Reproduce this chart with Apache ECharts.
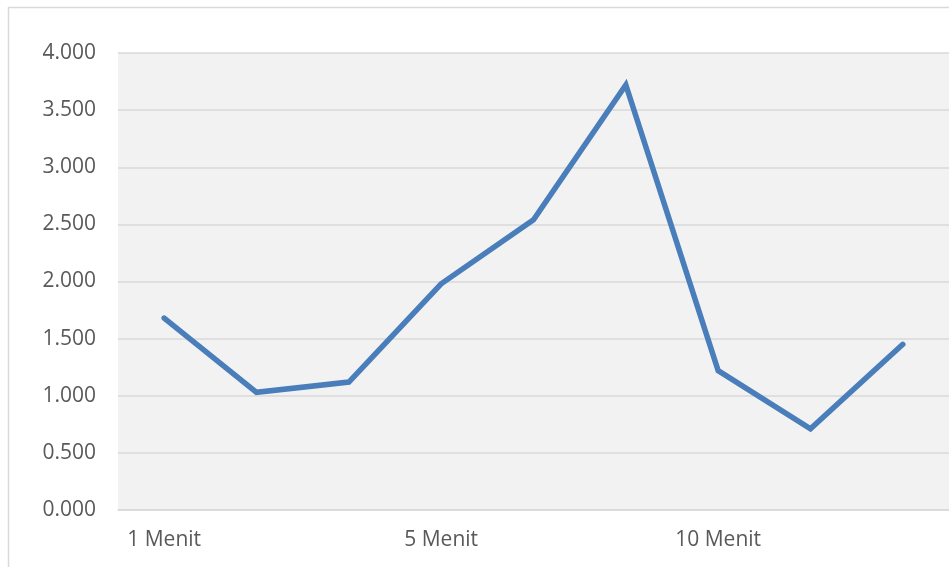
<!DOCTYPE html>
<html>
<head>
<meta charset="utf-8">
<script src="https://cdn.jsdelivr.net/npm/echarts@6/dist/echarts.min.js"></script>
<style>
html,body{margin:0;padding:0;background:#fff;}
#chart{width:949px;height:567px;}
</style>
</head>
<body>
<div id="chart"></div>
<script>
var categories = ["1 Menit","2 Menit","3 Menit","5 Menit","6 Menit","8 Menit","10 Menit","12 Menit","15 Menit"];
var values = [1.68, 1.03, 1.12, 1.98, 2.54, 3.72, 1.22, 0.71, 1.45];
var yTicks = {min: 0, max: 4, interval: 0.5};

var chart = echarts.init(document.getElementById('chart'), null, {renderer: 'canvas'});
chart.setOption({
  animation: false,
  backgroundColor: '#ffffff',
  graphic: [{
    type: 'rect',
    shape: {x: 8.5, y: 7.5, width: 1000, height: 700},
    style: {fill: 'none', stroke: '#d9d9d9', lineWidth: 1.5},
    silent: true,
    z: 0
  }],
  grid: {
    left: 118, top: 53, width: 835.5, height: 457,
    show: true, backgroundColor: '#f2f2f2', borderWidth: 0
  },
  xAxis: {
    type: 'category',
    data: categories,
    boundaryGap: true,
    axisLine: {show: true, lineStyle: {color: '#d9d9d9', width: 1.5}},
    axisTick: {show: false},
    axisLabel: {
      interval: 2,
      color: '#595959',
      fontFamily: 'Open Sans',
      fontSize: 21,
      margin: 20
    },
    splitLine: {show: false}
  },
  yAxis: {
    type: 'value',
    min: yTicks.min, max: yTicks.max, interval: yTicks.interval,
    axisLine: {show: false},
    axisTick: {show: false},
    axisLabel: {
      color: '#595959',
      fontFamily: 'Open Sans',
      fontSize: 21,
      margin: 22,
      formatter: function (v) { return v.toFixed(3); }
    },
    splitLine: {show: true, lineStyle: {color: '#d9d9d9', width: 1.5}}
  },
  series: [{
    type: 'line',
    data: values,
    showSymbol: false,
    symbol: 'none',
    lineStyle: {color: '#4a7ebb', width: 5.5, cap: 'round', join: 'miter'},
    z: 3
  }]
});
</script>
</body>
</html>
